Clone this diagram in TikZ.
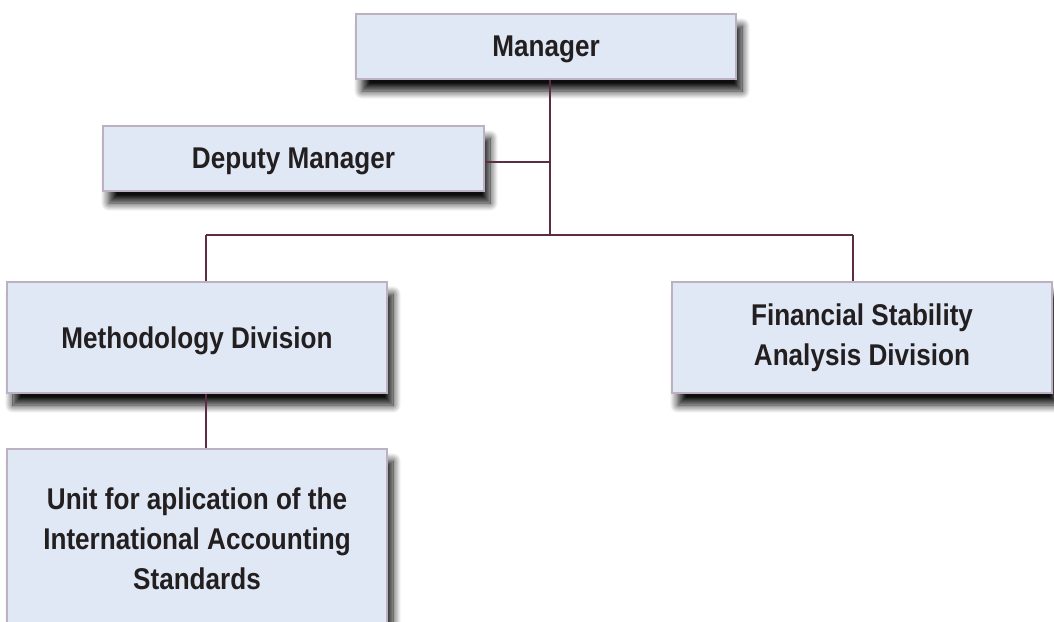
\documentclass[tikz,border=0pt]{standalone}
\usepackage{fontspec}
\setmainfont{Liberation Sans}[FakeStretch=0.87]
\usetikzlibrary{shadows.blur}
\definecolor{boxfill}{HTML}{DFE8F4}
\definecolor{boxline}{HTML}{BDB0C0}
\definecolor{conn}{HTML}{5A2D42}
\definecolor{txt}{HTML}{231F20}
\tikzset{
  orgbox/.style={rectangle, draw=boxline, line width=1.8pt, fill=boxfill,
    inner sep=0pt, align=center, text=txt,
    font=\fontsize{30}{40}\selectfont\bfseries,
    blur shadow={shadow xshift=6pt, shadow yshift=-12pt, shadow blur radius=8pt, shadow blur steps=12, shadow opacity=95}},
  oneline/.style={text depth=0pt},
  link/.style={draw=conn, line width=1.6pt}
}
\begin{document}
\begin{tikzpicture}[x=1pt,y=-1pt]
\useasboundingbox (0,0) rectangle (1054,621);
\begin{scope}
\clip (0,0) rectangle (1054,621);
\node[orgbox, oneline, minimum width=380pt, minimum height=65pt] (mgr) at (546,46.5) {Manager};
\node[orgbox, oneline, minimum width=381pt, minimum height=65pt] (dep) at (293.5,158.5) {Deputy Manager};
\node[orgbox, oneline, minimum width=380pt, minimum height=111pt] (meth) at (197,337.5) {Methodology Division};
\node[orgbox, minimum width=380pt, minimum height=111pt] (fin) at (862,337.5) {Financial Stability\\Analysis Division};
\node[orgbox, minimum width=380pt, minimum height=180pt] (unit) at (197,539) {Unit for aplication of the\\International Accounting\\Standards};
\end{scope}
\coordinate (j) at (550,162);
\coordinate (bus) at (550,235);
\coordinate (busL) at (206,235);
\coordinate (busR) at (853,235);
\draw[link] (mgr.south -| j) -- (bus);
\draw[link] (dep.east |- j) -- (j);
\draw[link] (busL) -- (busR);
\draw[link] (busL) -- (busL |- meth.north);
\draw[link] (busR) -- (busR |- fin.north);
\draw[link] (busL |- meth.south) -- (busL |- unit.north);
\end{tikzpicture}
\end{document}
